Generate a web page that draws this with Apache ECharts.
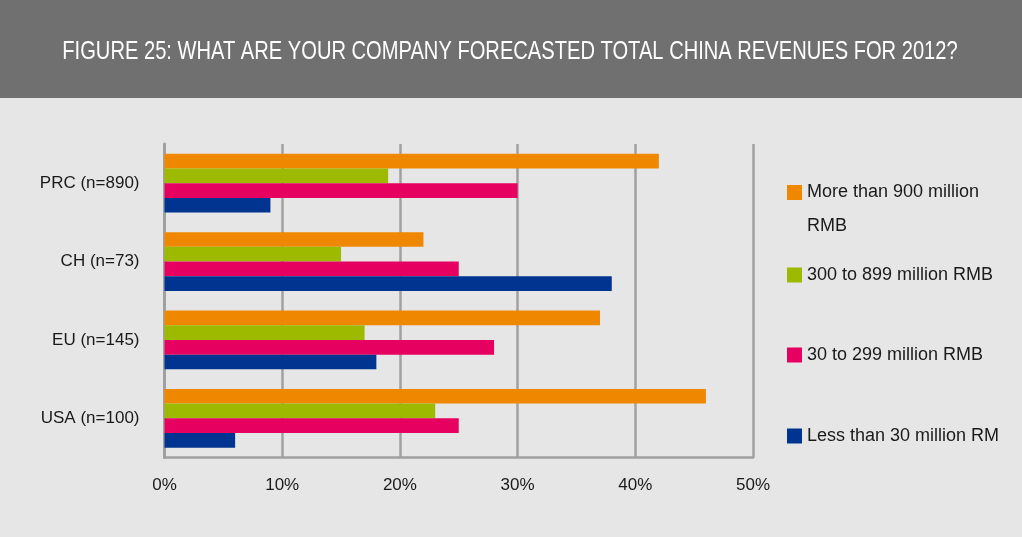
<!DOCTYPE html>
<html>
<head>
<meta charset="utf-8">
<script src="https://cdn.jsdelivr.net/npm/echarts@6/dist/echarts.min.js"></script>
<style>
html,body{margin:0;padding:0;background:#e6e6e6;}
#chart{width:1022px;height:537px;}
</style>
</head>
<body>
<div id="chart"></div>
<script>
var titleText = 'FIGURE 25: WHAT ARE YOUR COMPANY FORECASTED TOTAL CHINA REVENUES FOR 2012?';
var categories = ['PRC (n=890)', 'CH (n=73)', 'EU (n=145)', 'USA (n=100)'];
var seriesNames = ['More than 900 million RMB', '300 to 899 million RMB', '30 to 299 million RMB', 'Less than 30 million RM'];
var over900 = [42, 22, 37, 46];
var from300to899 = [19, 15, 17, 23];
var from30to299 = [30, 25, 28, 25];
var under30 = [9, 38, 18, 6];
var xTicks = [0, 10, 20, 30, 40, 50];
var colors = ['#f08700', '#9db900', '#e6005f', '#003490'];

var FONT = '"Liberation Sans", Arial, sans-serif';
var seriesData = [over900, from300to899, from30to299, under30];

var chart = echarts.init(document.getElementById('chart'));

function legendFor(i, top, extra) {
  var ts = {color: '#1a1a1a', fontSize: 18, fontFamily: FONT, lineHeight: 15};
  if (extra) { for (var k in extra) ts[k] = extra[k]; }
  var lg = {
    show: true,
    orient: 'vertical',
    left: 787,
    top: top,
    padding: 0,
    itemWidth: 15,
    itemHeight: 15,
    itemGap: 0,
    itemStyle: {borderWidth: 0},
    icon: 'rect',
    selectedMode: false,
    textStyle: ts,
    data: [{name: seriesNames[i], itemStyle: {color: colors[i]}}]
  };
  if (i === 0) {
    lg.formatter = function () { return ' \nMore than 900 million\nRMB'; };
  }
  return lg;
}

chart.setOption({
  backgroundColor: '#e6e6e6',
  animation: false,
  graphic: [
    {type: 'rect', z: -1, shape: {x: 0, y: 0, width: 1022, height: 98}, style: {fill: '#707070'}},
    {type: 'text', x: 510, y: 52, scaleX: 0.805,
     style: {text: titleText, x: 0, y: 0, fill: '#ffffff', font: '25px ' + FONT, align: 'center', verticalAlign: 'middle'}}
  ],
  legend: [
    legendFor(0, 141.5, {lineHeight: 34}),
    legendFor(1, 266),
    legendFor(2, 346),
    legendFor(3, 427)
  ],
  grid: {left: 164.5, right: 269, top: 144, bottom: 79.5, containLabel: false},
  xAxis: {
    type: 'value',
    min: 0,
    max: 50,
    interval: 10,
    axisLine: {show: true, lineStyle: {color: '#a0a0a0', width: 2.5}},
    axisTick: {show: false},
    splitLine: {show: true, lineStyle: {color: '#a0a0a0', width: 2.5}},
    axisLabel: {color: '#1a1a1a', fontSize: 17, fontFamily: FONT, margin: 19, formatter: '{value}%'}
  },
  yAxis: {
    type: 'category',
    inverse: true,
    data: categories,
    axisLine: {show: true, lineStyle: {color: '#a0a0a0', width: 3}},
    axisTick: {show: false},
    axisLabel: {color: '#1a1a1a', fontSize: 17, fontFamily: FONT, margin: 25}
  },
  series: seriesData.map(function (d, i) {
    return {
      name: seriesNames[i],
      type: 'bar',
      data: d,
      barGap: '0%',
      barCategoryGap: '25%',
      itemStyle: {color: colors[i]}
    };
  })
});
</script>
</body>
</html>
